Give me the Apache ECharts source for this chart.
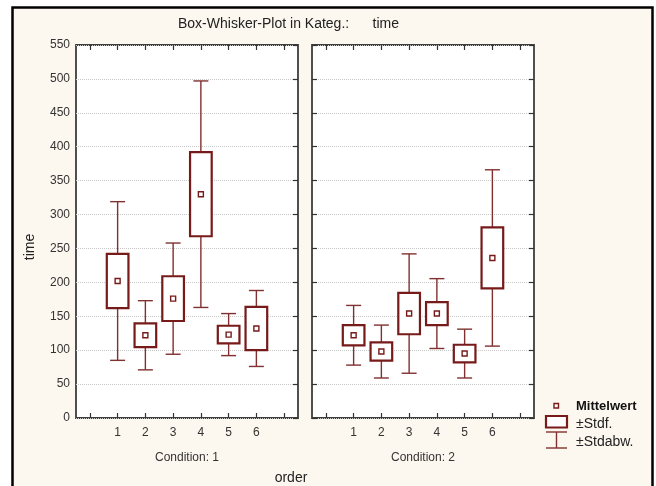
<!DOCTYPE html>
<html>
<head>
<meta charset="utf-8">
<script src="https://cdn.jsdelivr.net/npm/echarts@6/dist/echarts.min.js"></script>
<style>html,body{margin:0;background:#fff}#chart{width:656px;height:486px}</style>
</head>
<body>
<div id="chart"></div>
<script>
// order categories (blank slots at both ends give the padding seen in the plot)
const orderCats = ['', '1', '2', '3', '4', '5', '6', ''];
const cond1Mean = [202, 122, 176, 330, 123, 132];
const cond1Stdf = [40, 17.5, 33, 62, 13, 32];
const cond1Stdabw = [117, 51, 82, 167, 31, 56];
const cond2Mean = [122, 98, 154, 154, 95, 236];
const cond2Stdf = [15, 13.5, 30.5, 17, 13, 45];
const cond2Stdabw = [44, 39, 88, 51.5, 36, 130];
const yMin = 0, yMax = 550, yStep = 50;

const FONT = 'Liberation Sans, Arial, sans-serif';
const BOX = '#771a1a';
const WHISK = '#80302f';

function rows(mean, se, sd) {
  return mean.map((m, i) => [i + 1, m, se[i], sd[i]]);
}

function renderBox(params, api) {
  const x = api.value(0), m = api.value(1), se = api.value(2), sd = api.value(3);
  const band = api.size([1, 0])[0];
  const cx = api.coord([x, m])[0];
  const y = v => api.coord([x, v])[1];
  const bw = band * 0.78, cw = band * 0.54, ms = 5;
  const wt = y(m + sd), wb = y(m - sd), bt = y(m + se), bb = y(m - se), ym = y(m);
  const ln = { stroke: WHISK, lineWidth: 1.4 };
  return {
    type: 'group',
    children: [
      { type: 'line', shape: { x1: cx, y1: wt, x2: cx, y2: wb }, style: ln },
      { type: 'line', shape: { x1: cx - cw / 2, y1: wt, x2: cx + cw / 2, y2: wt }, style: ln },
      { type: 'line', shape: { x1: cx - cw / 2, y1: wb, x2: cx + cw / 2, y2: wb }, style: ln },
      { type: 'rect', shape: { x: cx - bw / 2, y: bt, width: bw, height: bb - bt },
        style: { fill: '#fff', stroke: BOX, lineWidth: 2.2 } },
      { type: 'rect', shape: { x: cx - ms / 2, y: ym - ms / 2, width: ms, height: ms },
        style: { fill: '#fff', stroke: BOX, lineWidth: 1.4 } }
    ]
  };
}

function grid(left) {
  return { left: left, top: 45, width: 222, height: 373, show: true,
    backgroundColor: '#fff', borderColor: '#3d3d3d', borderWidth: 1.8 };
}

function xAx(gi, pos, name) {
  return {
    type: 'category', gridIndex: gi, position: pos, data: orderCats, boundaryGap: true,
    axisLine: { show: false, onZero: false },
    axisTick: { show: true, inside: true, alignWithLabel: true, interval: 0, length: 5,
      lineStyle: { color: '#333', width: 1.2 } },
    axisLabel: { show: pos === 'bottom', interval: 0, margin: 9, fontSize: 12, color: '#333', fontFamily: FONT },
    name: name || '', nameLocation: 'middle', nameGap: 34,
    nameTextStyle: { fontSize: 12, color: '#333', fontFamily: FONT }
  };
}

function yAx(gi, pos, labels, ticks, split) {
  return {
    type: 'value', gridIndex: gi, position: pos, min: yMin, max: yMax, interval: yStep,
    axisLine: { show: false, onZero: false },
    axisTick: { show: ticks, inside: true, length: 5, lineStyle: { color: '#333', width: 1.2 } },
    axisLabel: { show: labels, margin: 6, fontSize: 12, color: '#333', fontFamily: FONT },
    splitLine: { show: split, lineStyle: { color: '#c8c8c8', type: 'dotted', width: 1 } }
  };
}

const chart = echarts.init(document.getElementById('chart'), null, { renderer: 'canvas' });
chart.setOption({
  animation: false,
  backgroundColor: '#fff',
  title: {
    text: 'Box-Whisker-Plot in Kateg.:      time', left: 178, top: 17, padding: 0,
    textStyle: { fontSize: 14, fontWeight: 'normal', color: '#222', fontFamily: FONT }
  },
  grid: [grid(76), grid(312)],
  xAxis: [
    xAx(0, 'bottom', 'Condition: 1'), xAx(0, 'top'),
    xAx(1, 'bottom', 'Condition: 2'), xAx(1, 'top')
  ],
  yAxis: [
    yAx(0, 'left', true, false, true), yAx(0, 'right', false, true, false),
    yAx(1, 'left', false, true, true), yAx(1, 'right', false, true, false)
  ],
  series: [
    { type: 'custom', xAxisIndex: 0, yAxisIndex: 0, renderItem: renderBox,
      encode: { x: 0, y: 1 }, data: rows(cond1Mean, cond1Stdf, cond1Stdabw), z: 5 },
    { type: 'custom', xAxisIndex: 2, yAxisIndex: 2, renderItem: renderBox,
      encode: { x: 0, y: 1 }, data: rows(cond2Mean, cond2Stdf, cond2Stdabw), z: 5 }
  ],
  graphic: [
    { type: 'rect', z: -10, shape: { x: 12.5, y: 7.5, width: 640, height: 490 },
      style: { fill: '#fdf8ef', stroke: '#000', lineWidth: 2.5 } },
    { type: 'text', x: 30, y: 247, rotation: Math.PI / 2, z: 10,
      style: { text: 'time', fontSize: 14, fill: '#222', fontFamily: FONT, align: 'center', verticalAlign: 'middle' } },
    { type: 'text', x: 291, y: 478, z: 10,
      style: { text: 'order', fontSize: 14, fill: '#222', fontFamily: FONT, align: 'center', verticalAlign: 'middle' } },
    // legend
    { type: 'rect', z: 10, shape: { x: 554, y: 403.5, width: 4.5, height: 4.5 },
      style: { fill: '#fff', stroke: BOX, lineWidth: 1.4 } },
    { type: 'rect', z: 10, shape: { x: 546, y: 416, width: 21, height: 11.5 },
      style: { fill: '#fff', stroke: BOX, lineWidth: 2.2 } },
    { type: 'line', z: 10, shape: { x1: 546, y1: 432, x2: 567, y2: 432 }, style: { stroke: WHISK, lineWidth: 1.4 } },
    { type: 'line', z: 10, shape: { x1: 556.5, y1: 432, x2: 556.5, y2: 448 }, style: { stroke: WHISK, lineWidth: 1.4 } },
    { type: 'line', z: 10, shape: { x1: 546, y1: 448, x2: 567, y2: 448 }, style: { stroke: WHISK, lineWidth: 1.4 } },
    { type: 'text', x: 576, y: 406, z: 10,
      style: { text: 'Mittelwert', fontSize: 13, fontWeight: 'bold', fill: '#111', fontFamily: FONT, verticalAlign: 'middle' } },
    { type: 'text', x: 576, y: 424, z: 10,
      style: { text: '±Stdf.', fontSize: 14, fill: '#222', fontFamily: FONT, verticalAlign: 'middle' } },
    { type: 'text', x: 576, y: 442, z: 10,
      style: { text: '±Stdabw.', fontSize: 14, fill: '#222', fontFamily: FONT, verticalAlign: 'middle' } }
  ]
});
</script>
</body>
</html>
